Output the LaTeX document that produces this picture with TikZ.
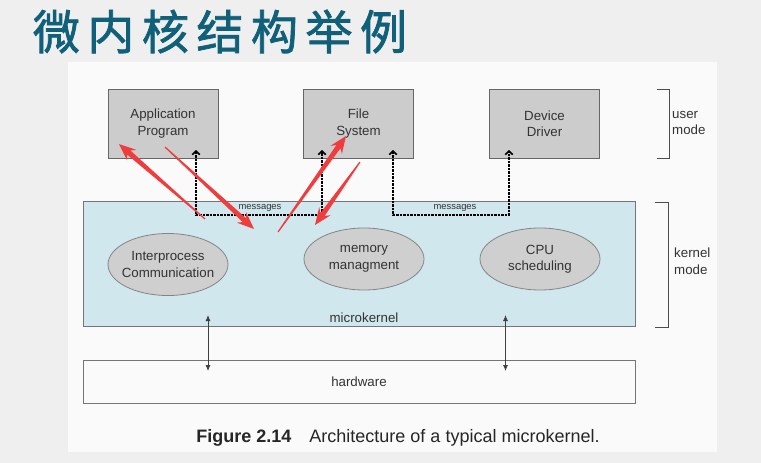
\documentclass[tikz,border=0pt]{standalone}
\usepackage{fontspec}
\setmainfont{Liberation Sans}
\newfontfamily\cjk{Noto Sans CJK SC}[LetterSpace=16, FakeBold=1.6]
\usetikzlibrary{arrows.meta,calc,shapes.geometric}
\definecolor{bgc}{HTML}{EFEFEF}
\definecolor{panelc}{HTML}{FAFAFA}
\definecolor{boxc}{HTML}{CCCCCC}
\definecolor{kernc}{HTML}{D0E7EE}
\definecolor{ellc}{HTML}{CFCFCF}
\definecolor{titlec}{HTML}{10607A}
\definecolor{redc}{HTML}{F03C3C}
\definecolor{txtc}{HTML}{333333}
\definecolor{edgec}{HTML}{666666}
\newcommand\dfont{\fontsize{13.3}{16.5}\selectfont}
\newcommand\redarrow[2]{%
  \coordinate (rN) at ($(#2)!13pt!(#1)$);
  \coordinate (rH) at ($(#2)!17pt!(#1)$);
  \fill[redc] ($(#1)!0.6pt!90:(#2)$) -- ($(rN)!2.6pt!90:(#2)$) -- ($(rH)!7pt!90:(#2)$)
    -- (#2) -- ($(rH)!7pt!-90:(#2)$) -- ($(rN)!2.6pt!-90:(#2)$) -- ($(#1)!0.6pt!-90:(#2)$) -- cycle;}
\tikzset{
  ubox/.style={draw=edgec, fill=boxc, line width=1pt, minimum width=110pt, minimum height=69pt,
    align=center, inner sep=0pt, text=txtc, font=\dfont},
  ell/.style={ellipse, draw=edgec!80, fill=ellc, line width=0.8pt, minimum width=120pt,
    minimum height=62pt, inner sep=0pt},
  etext/.style={align=center, inner sep=0pt, text=txtc, font=\dfont},
  layer/.style={draw=edgec!90, line width=1pt, minimum width=552pt, inner sep=0pt, text=txtc, font=\dfont},
  msg/.style={line width=1.8pt, dash pattern=on 2.2pt off 1.3pt,
    {Straight Barb[length=3.5pt,width=7.5pt,line width=1.6pt]}-{Straight Barb[length=3.5pt,width=7.5pt,line width=1.6pt]}},
  msglabel/.style={font=\fontsize{9.4}{10}\selectfont, text=txtc, inner sep=0pt},
  hwarrow/.style={draw=black!75, line width=0.8pt, {Latex[length=6pt,width=5pt]}-{Latex[length=6pt,width=5pt]}},
  bracket/.style={draw=black!70, line width=1pt},
  modelabel/.style={anchor=west, align=left, inner sep=0pt, text=txtc, font=\dfont}
}
\begin{document}
\begin{tikzpicture}[x=1pt, y=-1pt]
\useasboundingbox (0,0) rectangle (761,463);
\fill[bgc] (0,0) rectangle (761,463);
\fill[panelc] (68,62) rectangle (717,452);
% title
\node[text=titlec, font=\cjk\fontsize{47}{52}\selectfont, inner sep=0pt] (title) at (220,31.5) {微内核结构举例};
% user level
\node[ubox] (app) at (163,123.5) {Application\\Program};
\node[ubox] (fs)  at (358.5,123.5) {File\\System};
\node[ubox] (dd)  at (544.5,123.5) {Device\\Driver};
% kernel
\node[layer, fill=kernc, minimum height=125pt] (kern) at (359,263.5) {};
\node[ell] (ipc) at (168,264.5) {};
\node[ell] (mem) at (364,259) {};
\node[ell] (cpu) at (540,259) {};
\node[etext] (ipct) at (ipc) {Interprocess\\Communication};
\node[etext] (memt) at (mem) {memory\\managment};
\node[etext] (cput) at (cpu) {CPU\\scheduling};
\node[text=txtc, font=\dfont, inner sep=0pt] (mk) at (364,318) {microkernel};
% hardware
\node[layer, fill=panelc, minimum height=43pt] (hw) at (359,381.5) {hardware};
% messages
\coordinate (m1) at (196,150); \coordinate (b1) at (196,215);
\coordinate (m2) at (322,150); \coordinate (b2) at (322,215);
\coordinate (m3) at (393,150); \coordinate (b3) at (393,215);
\coordinate (m4) at (509,150); \coordinate (b4) at (509,215);
\draw[msg] (m1) -- (b1) -- (b2) -- (m2);
\draw[msg] (m3) -- (b3) -- (b4) -- (m4);
\node[msglabel] (l1) at (260,207.5) {messages};
\node[msglabel] (l2) at (455,207.5) {messages};
% kernel <-> hardware
\coordinate (k1) at (208,315); \coordinate (h1) at (208,371);
\coordinate (k2) at (505.5,315); \coordinate (h2) at (505.5,371);
\draw[hwarrow] (k1) -- (h1);
\draw[hwarrow] (k2) -- (h2);
% mode brackets
\draw[bracket] (657,89) -- (669,89) -- (669,158) -- (657,158);
\draw[bracket] (655,202) -- (668,202) -- (668,327) -- (655,327);
\node[modelabel] (um) at (672,123) {user\\mode};
\node[modelabel] (km) at (674,261) {kernel\\mode};
% caption
\node[text=black!85, font=\fontsize{18}{20}\selectfont, inner sep=0pt] (cap) at (398,438)
  {\textbf{Figure 2.14}\quad Architecture of a typical microkernel.};
% red annotation arrows
\coordinate (ra1) at (205,219); \coordinate (ra2) at (119,144);
\coordinate (rb1) at (165,147); \coordinate (rb2) at (254,229);
\coordinate (rc1) at (278,232); \coordinate (rc2) at (346,136);
\coordinate (rd1) at (360,162); \coordinate (rd2) at (315,225);
\redarrow{ra1}{ra2}
\redarrow{rb1}{rb2}
\redarrow{rc1}{rc2}
\redarrow{rd1}{rd2}
\end{tikzpicture}
\end{document}
